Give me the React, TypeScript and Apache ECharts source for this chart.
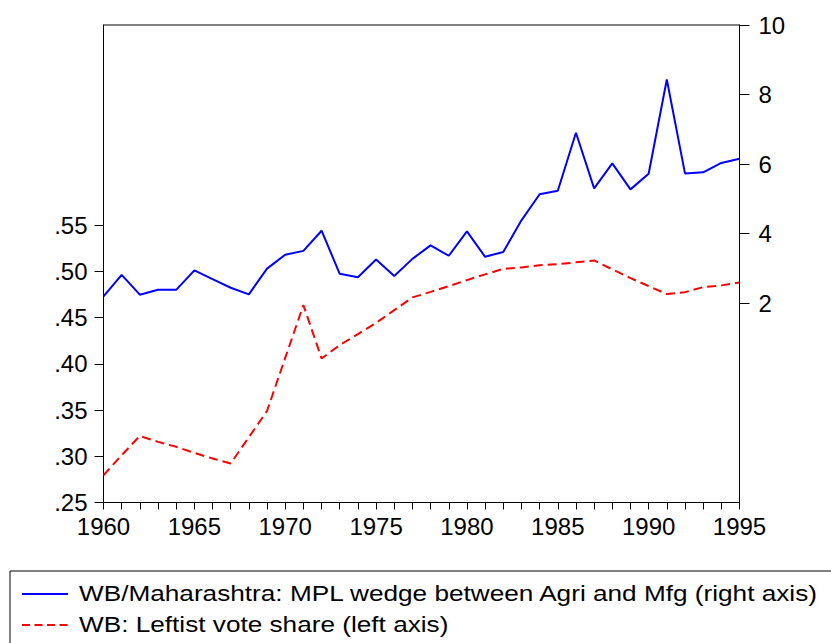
import React, { useEffect, useRef } from "react";
import * as echarts from "echarts";

const years = [
  "1960", "1961", "1962", "1963", "1964", "1965", "1966", "1967", "1968", "1969",
  "1970", "1971", "1972", "1973", "1974", "1975", "1976", "1977", "1978", "1979",
  "1980", "1981", "1982", "1983", "1984", "1985", "1986", "1987", "1988", "1989",
  "1990", "1991", "1992", "1993", "1994", "1995",
];

// WB/Maharashtra: MPL wedge between Agri and Mfg (right axis)
const mplWedge = [
  2.19, 2.81, 2.24, 2.38, 2.38, 2.94, 2.69, 2.44, 2.25, 2.99,
  3.39, 3.5, 4.08, 2.84, 2.74, 3.25, 2.78, 3.27, 3.66, 3.36,
  4.06, 3.33, 3.47, 4.38, 5.13, 5.23, 6.9, 5.3, 6.02, 5.27,
  5.72, 8.43, 5.73, 5.76, 6.03, 6.15,
];

// WB: Leftist vote share (left axis)
const leftistShare = [
  0.2795, 0.3012, 0.322, 0.3156, 0.3102, 0.3037, 0.2976, 0.2922, 0.3206, 0.349,
  0.4064, 0.4635, 0.4058, 0.4202, 0.4321, 0.4443, 0.458, 0.4718, 0.4778, 0.484,
  0.4905, 0.4967, 0.5027, 0.5042, 0.5067, 0.5078, 0.5097, 0.5118, 0.5021, 0.4927,
  0.484, 0.4754, 0.4775, 0.4829, 0.4848, 0.488,
];

const leftTicks = [0.25, 0.3, 0.35, 0.4, 0.45, 0.5, 0.55];
const rightTicks = [2, 4, 6, 8, 10];

const seriesNames = [
  "WB/Maharashtra: MPL wedge between Agri and Mfg (right axis)",
  "WB: Leftist vote share (left axis)",
];

const FONT = "'Liberation Sans', Arial, sans-serif";

export default function App() {
  const ref = useRef<HTMLDivElement>(null);

  useEffect(() => {
    if (!ref.current) return;
    const chart = echarts.init(ref.current, undefined, { renderer: "svg" });
    const labelStyle = { color: "#000", fontFamily: FONT, fontSize: 24 };
    chart.setOption({
      animation: false,
      backgroundColor: "#fff",
      grid: {
        left: 103.5,
        right: 91.5,
        top: 25,
        bottom: 140.5,
        show: true,
        borderColor: "#000",
        borderWidth: 1,
        backgroundColor: "transparent",
      },
      xAxis: {
        type: "category",
        data: years,
        boundaryGap: false,
        position: "bottom",
        axisLine: { show: true, onZero: false, lineStyle: { color: "#000", width: 1 } },
        axisTick: { show: true, interval: 0, length: 7, inside: false, lineStyle: { color: "#000", width: 1 } },
        axisLabel: { ...labelStyle, interval: 4, margin: 12 },
        splitLine: { show: false },
      },
      yAxis: [
        {
          type: "value",
          position: "left",
          min: 0.25,
          max: 0.7664,
          alignTicks: false,
          axisLine: { show: true, onZero: false, lineStyle: { color: "#000", width: 1 } },
          axisTick: {
            show: true,
            length: 9,
            customValues: leftTicks,
            lineStyle: { color: "#000", width: 1 },
          },
          axisLabel: {
            ...labelStyle,
            margin: 16,
            customValues: leftTicks,
            formatter: (v: number) => v.toFixed(2).replace(/^0/, ""),
          },
          splitLine: { show: false },
        },
        {
          type: "value",
          position: "right",
          min: -3.74,
          max: 10,
          alignTicks: false,
          axisLine: { show: true, onZero: false, lineStyle: { color: "#000", width: 1 } },
          axisTick: {
            show: true,
            length: 10,
            customValues: rightTicks,
            lineStyle: { color: "#000", width: 1 },
          },
          axisLabel: {
            ...labelStyle,
            margin: 19,
            customValues: rightTicks,
            formatter: (v: number) => String(v),
          },
          splitLine: { show: false },
        },
      ],
      series: [
        {
          name: seriesNames[0],
          type: "line",
          yAxisIndex: 1,
          data: mplWedge,
          symbol: "none",
          lineStyle: { color: "#0000FF", width: 2 },
          itemStyle: { color: "#0000FF" },
        },
        {
          name: seriesNames[1],
          type: "line",
          yAxisIndex: 0,
          data: leftistShare,
          symbol: "none",
          lineStyle: { color: "#FF0000", width: 2, type: [9, 5] },
          itemStyle: { color: "#FF0000" },
        },
      ],
      graphic: [
        {
          type: "rect",
          shape: { x: 10, y: 571, width: 900, height: 200 },
          style: { fill: "none", stroke: "#000", lineWidth: 1 },
          silent: true,
        },
        {
          type: "line",
          shape: { x1: 22, y1: 594, x2: 68, y2: 594 },
          style: { stroke: "#0000FF", lineWidth: 2 },
          silent: true,
        },
        {
          type: "line",
          shape: { x1: 22, y1: 625, x2: 68, y2: 625 },
          style: { stroke: "#FF0000", lineWidth: 2, lineDash: [8, 4.5] },
          silent: true,
        },
        {
          type: "text",
          x: 79,
          y: 593,
          scaleX: 1.19,
          style: {
            text: seriesNames[0],
            fill: "#000",
            font: `22px ${FONT}`,
            verticalAlign: "middle",
            align: "left",
          },
          silent: true,
        },
        {
          type: "text",
          x: 79,
          y: 624,
          scaleX: 1.19,
          style: {
            text: seriesNames[1],
            fill: "#000",
            font: `22px ${FONT}`,
            verticalAlign: "middle",
            align: "left",
          },
          silent: true,
        },
      ],
    });
    return () => chart.dispose();
  }, []);

  return (
    <div
      ref={ref}
      style={{ position: "fixed", left: 0, top: 0, width: 831, height: 643, background: "#fff" }}
    />
  );
}
